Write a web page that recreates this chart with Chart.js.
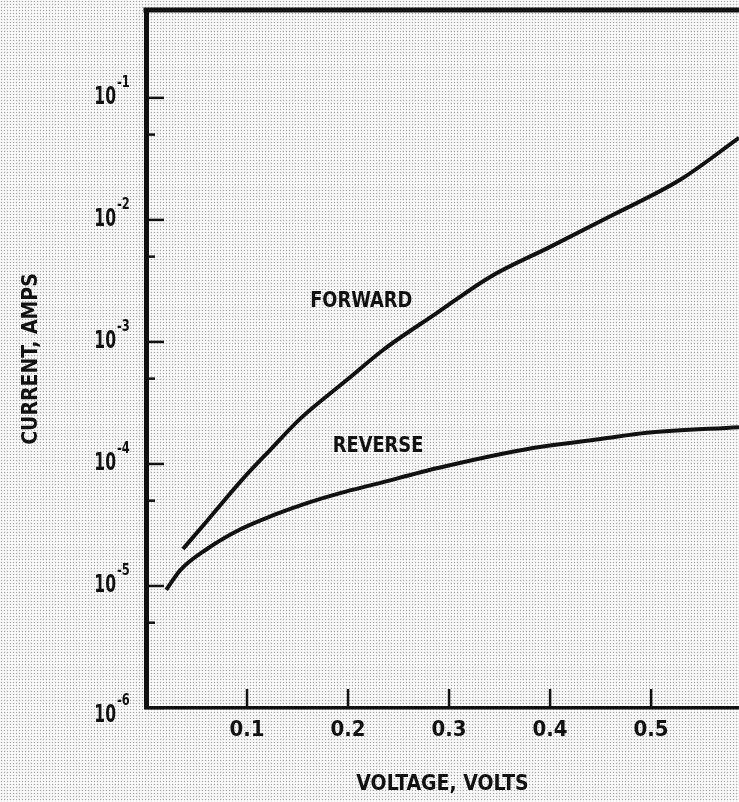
<!DOCTYPE html>
<html>
<head>
<meta charset="utf-8">
<script src="https://cdn.jsdelivr.net/npm/chart.js@4.4.1/dist/chart.umd.min.js"></script>
<style>
  html, body { margin: 0; padding: 0; }
  body {
    width: 739px; height: 802px; overflow: hidden;
    background-color: #fbfbfb;
    background-image: radial-gradient(circle, #a8a8a8 0.75px, rgba(0,0,0,0) 1.05px);
    background-size: 3px 3px;
  }
  #wrap { position: relative; width: 739px; height: 802px; }
</style>
</head>
<body>
<div id="wrap"><canvas id="c"></canvas></div>
<script>
// ---- data ----
const forwardVolts   = [0.0366, 0.0604, 0.095, 0.1228, 0.1525, 0.199, 0.2347, 0.2881, 0.3406, 0.400, 0.4624, 0.5287, 0.587];
const forwardAmps    = [2.01e-5, 3.41e-5, 7.40e-5, 1.30e-4, 2.34e-4, 4.89e-4, 8.59e-4, 1.73e-3, 3.41e-3, 6.01e-3, 1.10e-2, 2.13e-2, 4.70e-2];
const reverseVolts   = [0.020, 0.034, 0.060, 0.093, 0.126, 0.160, 0.193, 0.226, 0.290, 0.383, 0.450, 0.496, 0.587];
const reverseAmps    = [9.3e-6, 1.35e-5, 2.0e-5, 2.9e-5, 3.8e-5, 4.8e-5, 5.8e-5, 6.8e-5, 9.3e-5, 1.35e-4, 1.6e-4, 1.8e-4, 2.0e-4];
const xTickValues    = [0.1, 0.2, 0.3, 0.4, 0.5];
const xTickLabels    = ['0.1', '0.2', '0.3', '0.4', '0.5'];
const yDecadeExps    = [-6, -5, -4, -3, -2, -1];
const yMinorValues   = [5e-6, 5e-5, 5e-4, 5e-3, 5e-2];
const curveLabels    = ['FORWARD', 'REVERSE'];
const curveLabelAt   = [[0.213, 2.15e-3], [0.2297, 1.4e-4]];
const xTitle = 'VOLTAGE, VOLTS';
const yTitle = 'CURRENT, AMPS';

const FONT = '"Liberation Sans Narrow", "DejaVu Sans Condensed", "DejaVu Sans", sans-serif';
const INK = '#111';

function toXY(xs, ys) { return xs.map((x, i) => ({ x: x, y: ys[i] })); }

function condensedText(ctx, text, x, y, size, align, sx) {
  ctx.save();
  ctx.font = 'bold ' + size + 'px ' + FONT;
  ctx.fillStyle = INK;
  ctx.textBaseline = 'middle';
  ctx.translate(x, y);
  ctx.scale(sx, 1);
  ctx.textAlign = align;
  ctx.fillText(text, 0, 0);
  ctx.restore();
}

const decor = {
  id: 'decor',
  afterDraw(chart) {
    const ctx = chart.ctx;
    const xs = chart.scales.x, ys = chart.scales.y;
    const area = chart.chartArea;
    ctx.save();
    ctx.strokeStyle = INK;
    ctx.lineCap = 'butt';
    // top frame line
    ctx.lineWidth = 5;
    ctx.beginPath();
    ctx.moveTo(area.left - 2.5, area.top);
    ctx.lineTo(chart.width, area.top);
    ctx.stroke();
    // inward x ticks
    ctx.lineWidth = 2.5;
    xTickValues.forEach(v => {
      const px = xs.getPixelForValue(v);
      ctx.beginPath();
      ctx.moveTo(px, area.bottom);
      ctx.lineTo(px, area.bottom - 19);
      ctx.stroke();
    });
    // inward y ticks (decades and 5x)
    yDecadeExps.forEach(e => {
      const py = ys.getPixelForValue(Math.pow(10, e));
      ctx.beginPath();
      ctx.moveTo(area.left, py);
      ctx.lineTo(area.left + 18, py);
      ctx.stroke();
    });
    yMinorValues.forEach(v => {
      const py = ys.getPixelForValue(v);
      ctx.beginPath();
      ctx.moveTo(area.left, py);
      ctx.lineTo(area.left + 9, py);
      ctx.stroke();
    });
    ctx.restore();
    // y tick labels: 10 with superscript exponent
    yDecadeExps.forEach(e => {
      let py = ys.getPixelForValue(Math.pow(10, e));
      if (e === -6) py += 8;
      condensedText(ctx, '10', 116, py, 24, 'right', 0.72);
      condensedText(ctx, String(e), 117, py - 15, 15, 'left', 0.85);
    });
    // curve labels
    curveLabels.forEach((t, i) => {
      const px = xs.getPixelForValue(curveLabelAt[i][0]);
      const py = ys.getPixelForValue(curveLabelAt[i][1]);
      condensedText(ctx, t, px, py, 22, 'center', 0.9);
    });
  }
};

new Chart(document.getElementById('c'), {
  type: 'line',
  data: {
    datasets: [
      { label: 'FORWARD', data: toXY(forwardVolts, forwardAmps), borderColor: INK, borderWidth: 4,
        pointRadius: 0, cubicInterpolationMode: 'monotone', fill: false },
      { label: 'REVERSE', data: toXY(reverseVolts, reverseAmps), borderColor: INK, borderWidth: 4,
        pointRadius: 0, cubicInterpolationMode: 'monotone', fill: false }
    ]
  },
  options: {
    responsive: true,
    maintainAspectRatio: false,
    animation: false,
    layout: { padding: { top: 10, left: 0, right: 0, bottom: 0 } },
    plugins: { legend: { display: false }, tooltip: { enabled: false } },
    scales: {
      x: {
        type: 'linear', min: 0, max: 0.587,
        grid: { display: false },
        border: { display: true, color: INK, width: 3.5 },
        afterBuildTicks: s => { s.ticks = xTickValues.map(v => ({ value: v })); },
        afterFit: s => { s.height = 94; },
        ticks: {
          padding: 1, color: INK,
          font: { family: FONT, size: 22, weight: 'bold' },
          callback: (v) => { const i = xTickValues.indexOf(v); return i >= 0 ? xTickLabels[i] : ''; }
        },
        title: { display: true, text: xTitle, color: INK,
          font: { family: FONT, size: 21, weight: 'bold' }, padding: { top: 0, bottom: 5 } }
      },
      y: {
        type: 'logarithmic', min: 1e-6, max: Math.pow(10, -0.28),
        grid: { display: false },
        border: { display: true, color: INK, width: 5 },
        afterFit: s => { s.width = 146; },
        ticks: { display: false },
        title: { display: true, text: yTitle, color: INK,
          font: { family: FONT, size: 21, weight: 'bold' }, padding: { top: 19, bottom: 0 } }
      }
    }
  },
  plugins: [decor]
});
</script>
</body>
</html>
